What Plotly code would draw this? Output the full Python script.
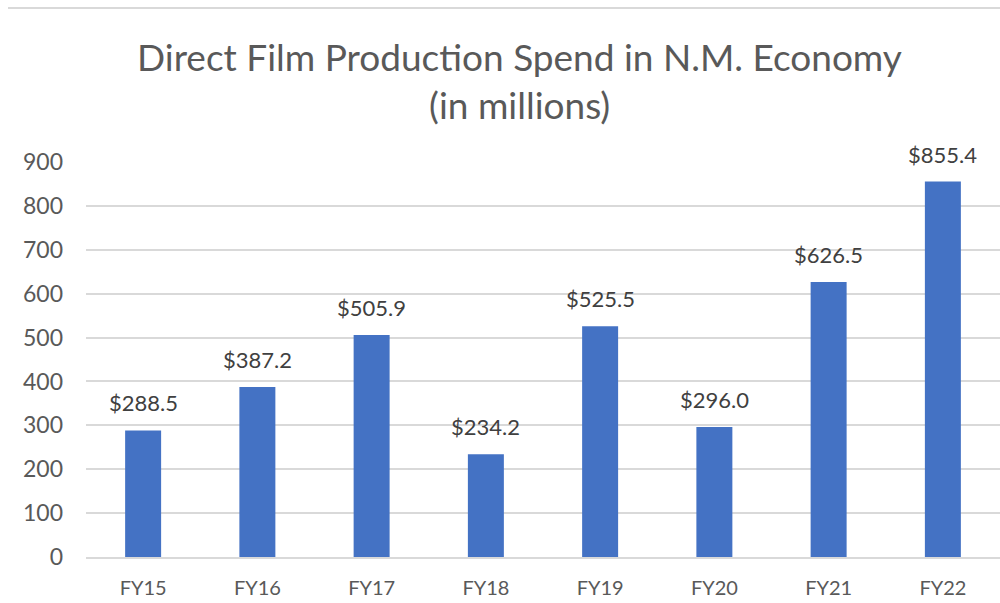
import plotly.graph_objects as go

categories = ["FY15", "FY16", "FY17", "FY18", "FY19", "FY20", "FY21", "FY22"]
values = [288.5, 387.2, 505.9, 234.2, 525.5, 296.0, 626.5, 855.4]
labels = ["$%.1f" % v for v in values]
y_ticks = [0, 100, 200, 300, 400, 500, 600, 700, 800, 900]

title_line1 = "Direct Film Production Spend in N.M. Economy"
title_line2 = "(in millions)"

FONT = "Lato, Carlito, Calibri, sans-serif"
BAR = "#4472C4"
TXT = "#595959"

fig = go.Figure()
fig.add_trace(go.Bar(x=categories, y=values, marker=dict(color=BAR, line=dict(width=0)),
                     hoverinfo="x+y"))

for c, v, t in zip(categories, values, labels):
    fig.add_annotation(x=c, y=v, text=t, showarrow=False, xref="x", yref="y",
                       yanchor="bottom", yshift=12,
                       font=dict(family=FONT, size=22, color="#404040"))

W, H = 1000, 603
ml, mr, mt, mb = 86, 0, 162, 46

def py(ypx):
    return (H - mb - ypx) / (H - mt - mb)

def px(xpx):
    return (xpx - ml) / (W - ml - mr)

fig.add_annotation(x=px(519), y=py(57), xref="paper", yref="paper", text=title_line1,
                   showarrow=False, xanchor="center", yanchor="middle",
                   font=dict(family=FONT, size=37, color=TXT))
fig.add_annotation(x=px(519), y=py(105), xref="paper", yref="paper", text=title_line2,
                   showarrow=False, xanchor="center", yanchor="middle",
                   font=dict(family=FONT, size=37, color=TXT))

fig.add_shape(type="line", xref="paper", yref="paper", x0=px(8), x1=px(1000),
              y0=py(8), y1=py(8), line=dict(color="#d9d9d9", width=2))

fig.update_layout(
    width=W, height=H,
    margin=dict(l=ml, r=mr, t=mt, b=mb, pad=0),
    paper_bgcolor="white", plot_bgcolor="white",
    bargap=0.685,
    showlegend=False,
    font=dict(family=FONT, color=TXT),
)
fig.update_yaxes(range=[0, 900], tickvals=y_ticks, showgrid=True, gridcolor="#d9d9d9",
                 gridwidth=1.5, zeroline=False, showline=False,
                 tickfont=dict(family=FONT, size=23, color=TXT), ticklabelstandoff=22)
fig.update_xaxes(showgrid=False, showline=True, linecolor="#d9d9d9", linewidth=1.5,
                 tickfont=dict(family=FONT, size=20, color=TXT), ticklabelstandoff=12)

fig.write_html("out.html", config={"displayModeBar": False},
               post_script="document.body.style.margin='0px';document.body.style.padding='0px';")
